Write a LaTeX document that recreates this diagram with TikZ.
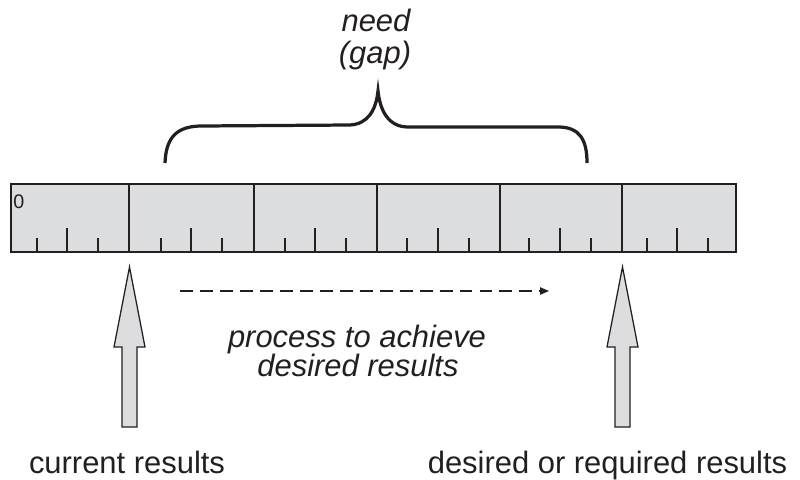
\documentclass[tikz,border=0pt]{standalone}
\usepackage{fontspec}
\setmainfont{Liberation Sans}
\usetikzlibrary{arrows.meta}
\definecolor{rulergray}{HTML}{DCDDDF}
\definecolor{inkgray}{HTML}{231F20}
\begin{document}
\begin{tikzpicture}[x=0.025cm, y=-0.025cm,
        bigtext/.style = {font=\fontsize{22}{22}\selectfont, text=inkgray, inner sep=0pt, anchor=base},
        slanttext/.style = {bigtext, font=\fontsize{22}{22}\selectfont\itshape},
        blockarrow/.style = {fill=rulergray, draw=inkgray, line width=0.9pt, line join=miter}]
        \useasboundingbox (0,0) rectangle (800,479);
        % the ruler
        \filldraw[fill = rulergray, draw = inkgray, line width=1.2pt] (11,184) rectangle (736,252);
        \foreach \x in {129,254,377,500,622}
            \draw[inkgray, line width=0.9pt] (\x,184) -- (\x,252);
        \foreach \a/\b/\c in {37/67/98, 161/191/222, 285/315/346, 407/438/469, 529/560/591, 647/677/708}{
            \draw[inkgray, line width=0.9pt] (\a,238) -- (\a,252);
            \draw[inkgray, line width=0.9pt] (\b,228) -- (\b,252);
            \draw[inkgray, line width=0.9pt] (\c,238) -- (\c,252);
        }
        \node[text=inkgray, inner sep=0pt, anchor=base west, font=\fontsize{14}{16}\selectfont] (zero) at (13,208) {0};
        % the gap brace
        \draw[inkgray, line width=2.3pt] (165,163) .. controls (166,138) and (176,126) .. (202,126)
            -- (350,125) .. controls (368,124) and (376,110) .. (378,91)
            .. controls (380,110) and (388,127) .. (408,127)
            -- (558,127) .. controls (580,127) and (587,140) .. (587,163);
        \node[slanttext] (need) at (376,32) {need};
        \node[slanttext] (gap) at (375,63) {(gap)};
        % the process
        \coordinate (procstart) at (180,291);
        \coordinate (procend) at (549,291);
        \draw[inkgray, line width=0.9pt, dash pattern=on 9.2pt off 5pt, -{Triangle[length=2.2mm, width=1.8mm]}] (procstart) -- (procend);
        \node[slanttext] (process) at (357,347) {process to achieve};
        \node[slanttext] (desiredres) at (358,376) {desired results};
        % the two results
        \foreach \x in {129.5,622.5}
            \draw[blockarrow] (\x,267) -- (\x+15.5,347) -- (\x+7.5,347) -- (\x+7.5,427)
                -- (\x-7.5,427) -- (\x-7.5,347) -- (\x-15.5,347) -- cycle;
        \node[bigtext] (current) at (127,473) {current results};
        \node[bigtext] (desired) at (607.5,473) {desired or required results};
\end{tikzpicture}
\end{document}
